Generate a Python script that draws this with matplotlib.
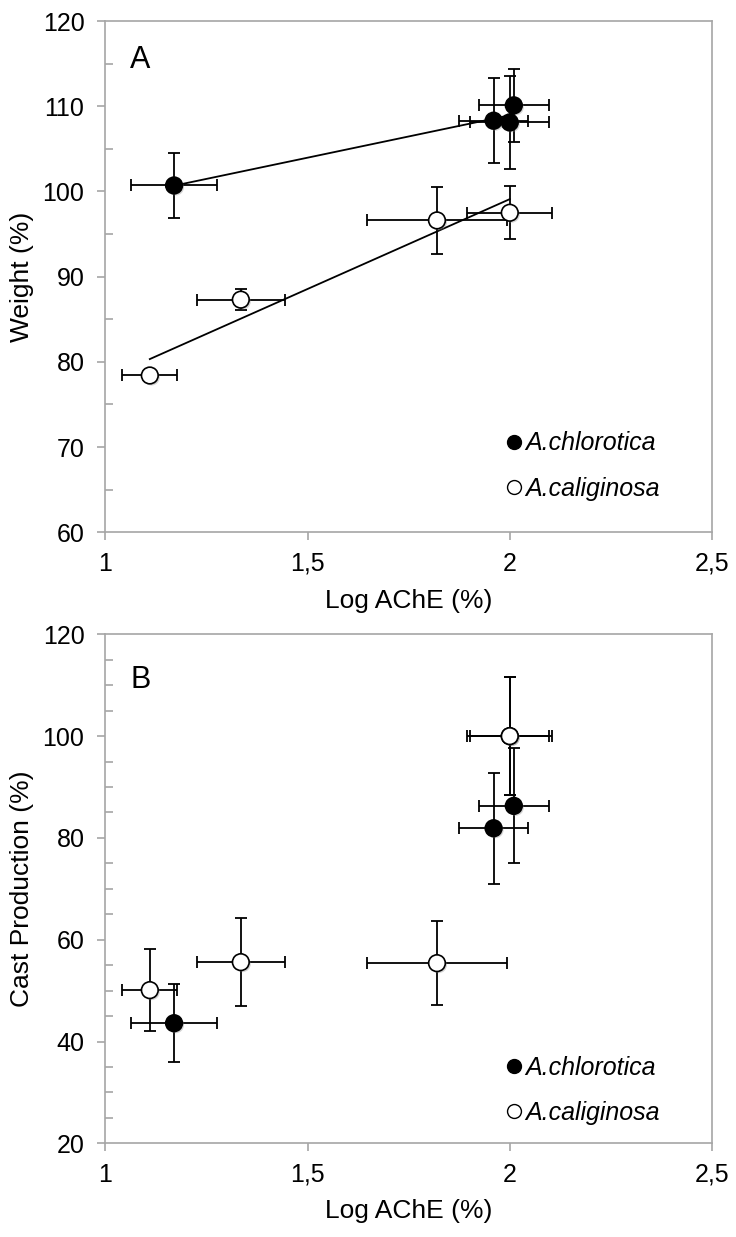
import matplotlib
matplotlib.use('Agg')
import matplotlib.pyplot as plt
import matplotlib.patheffects as pe
from matplotlib.lines import Line2D
from matplotlib.ticker import MultipleLocator
import numpy as np

plt.rcParams['font.family'] = ['Liberation Sans', 'DejaVu Sans']

# log AChE (%) for the two species, same in both panels
chl_x = [1.17, 1.96, 2.00, 2.01]
chl_xerr = [0.106, 0.086, 0.098, 0.087]
cal_x = [1.11, 1.335, 1.82, 2.00]
cal_xerr = [0.068, 0.109, 0.173, 0.105]

# panel A: weight (%)
chl_weight = [100.7, 108.3, 108.1, 110.1]
chl_weight_err = [3.85, 5.0, 5.5, 4.3]
cal_weight = [78.4, 87.3, 96.6, 97.5]
cal_weight_err = [0.6, 1.2, 3.9, 3.1]

# panel B: cast production (%)
chl_cast = [43.6, 81.9, 100.0, 86.3]
chl_cast_err = [7.7, 10.9, 11.6, 11.3]
cal_cast = [50.1, 55.6, 55.4, 100.0]
cal_cast_err = [8.1, 8.6, 8.3, 11.6]

x_ticks = [1, 1.5, 2, 2.5]
x_ticklabels = ['1', '1,5', '2', '2,5']
labels = ['A.chlorotica', 'A.caliginosa']

grey = '#a6a6a6'
shadow = [pe.SimplePatchShadow(offset=(1.2, -1.2), shadow_rgbFace='#888888', alpha=0.35), pe.Normal()]

fig = plt.figure(figsize=(7.36, 12.37), dpi=100)
axA = fig.add_axes([0.1431, 0.5697, 0.8243, 0.4133])
axB = fig.add_axes([0.1431, 0.0757, 0.8243, 0.4115])


def style_axes(ax, ylim, ymajor, ylabel, letter, letter_y):
    ax.set_xlim(1, 2.5)
    ax.set_ylim(*ylim)
    ax.set_xticks(x_ticks)
    ax.set_xticklabels(x_ticklabels)
    ax.yaxis.set_major_locator(MultipleLocator(ymajor))
    ax.yaxis.set_minor_locator(MultipleLocator(5))
    for s in ax.spines.values():
        s.set_color(grey)
        s.set_linewidth(1.2)
    ax.tick_params(axis='both', which='major', direction='out', length=6,
                   width=1.2, color=grey, labelsize=18, pad=8)
    ax.tick_params(axis='y', which='minor', direction='in', length=6,
                   width=1.2, color=grey)
    ax.tick_params(axis='y', which='major', pad=9)
    ax.set_xlabel('Log AChE (%)', fontsize=19)
    ax.set_ylabel(ylabel, fontsize=19)
    ax.xaxis.set_label_coords(0.5, -0.11)
    ax.yaxis.set_label_coords(-0.117, 0.5)
    ax.text(1.062, letter_y, letter, fontsize=22, va='center', ha='left')


def draw_series(ax, x, xerr, y, yerr, face, z):
    ax.errorbar(x, y, xerr=xerr, yerr=yerr, fmt='none', ecolor='black',
                elinewidth=1.3, capsize=4, capthick=1.3, zorder=z)
    ax.plot(x, y, 'o', ms=12, mfc=face, mec='black', mew=1.2, zorder=z + 1,
            path_effects=shadow)


def draw_legend(ax, ypos):
    handles = [Line2D([], [], ls='none', marker='o', ms=10, mfc='black', mec='black', mew=1),
               Line2D([], [], ls='none', marker='o', ms=10, mfc='white', mec='black', mew=1)]
    leg = ax.legend(handles, labels, loc='lower left', bbox_to_anchor=(0.66, ypos),
                    frameon=False, handlelength=0.65, handletextpad=0.15,
                    labelspacing=0.85, borderpad=0, borderaxespad=0,
                    prop={'style': 'italic', 'size': 18})
    return leg


# panel A
style_axes(axA, (60, 120), 10, 'Weight (%)', 'A', 115.4)
draw_series(axA, chl_x, chl_xerr, chl_weight, chl_weight_err, 'black', 3)
draw_series(axA, cal_x, cal_xerr, cal_weight, cal_weight_err, 'white', 5)
for x, y in [(chl_x, chl_weight), (cal_x, cal_weight)]:
    k, b = np.polyfit(x, y, 1)
    xs = np.array([min(x), max(x)])
    axA.plot(xs, k * xs + b, color='black', lw=1.3, zorder=2)
draw_legend(axA, 0.062)

# panel B
style_axes(axB, (20, 120), 20, 'Cast Production (%)', 'B', 111.1)
draw_series(axB, chl_x, chl_xerr, chl_cast, chl_cast_err, 'black', 3)
draw_series(axB, cal_x, cal_xerr, cal_cast, cal_cast_err, 'white', 5)
draw_legend(axB, 0.036)

fig.savefig('out.png', dpi=100)
